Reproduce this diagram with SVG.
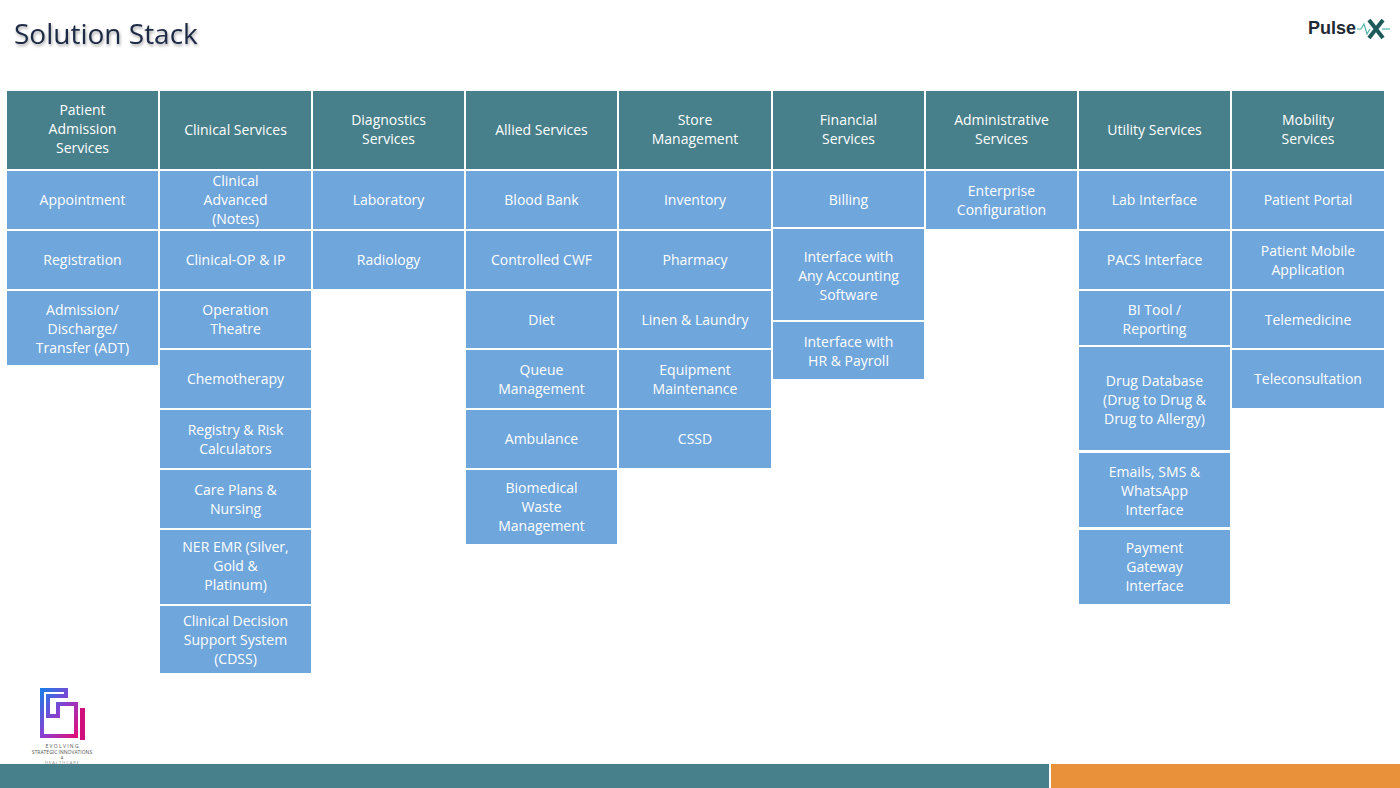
<svg xmlns="http://www.w3.org/2000/svg" width="1400" height="788" viewBox="0 0 1400 788">
<defs>
<linearGradient id="g" x1="0" y1="0" x2="1" y2="1"><stop offset="0" stop-color="#1e7be8"/><stop offset="0.5" stop-color="#8a3fd0"/><stop offset="1" stop-color="#e0107a"/></linearGradient>
<filter id="sh"><feDropShadow dx="1" dy="2" stdDeviation="1.5" flood-color="#000" flood-opacity="0.35"/></filter>
</defs>
<style>
.h{fill:#477f8a}.c{fill:#6fa6dc}
text{font-family:"Open Sans","Noto Sans",sans-serif;font-size:14px;fill:#fff;text-anchor:middle}
</style>
<rect width="1400" height="788" fill="#fff"/>
<text x="14" y="44" style="font-size:28px;fill:#1f2a44;text-anchor:start" filter="url(#sh)">Solution Stack</text>
<g id="logo-pulse"><text x="1308" y="34" style="font-size:18px;font-weight:bold;fill:#1f2a33;font-family:'Liberation Sans',sans-serif;text-anchor:start">Pulse</text>
<path d="M1357 29h4l3-5 3 10 3-5h0" stroke="#4fb3a8" fill="none" stroke-width="1.2"/>
<path d="M1369 20l14 18M1383 20l-14 18" stroke="#1f5a5a" stroke-width="4"/>
<path d="M1382 29h8" stroke="#4fb3a8" stroke-width="1.2"/></g>
<g id="logo-esi">
<path d="M42 690h24v6h-18v20h10v-12h18v32h-34z" fill="none" stroke="url(#g)" stroke-width="4"/>
<rect x="80" y="708" width="5" height="32" fill="#d0107a"/>
<text x="62" y="748" style="font-size:5px;fill:#555">E V O L V I N G</text>
<text x="62" y="754" style="font-size:5px;fill:#555">STRATEGIC INNOVATIONS</text>
<text x="62" y="759" style="font-size:4px;fill:#555">A</text>
<text x="62" y="764" style="font-size:4px;fill:#888">H E A L T H  C A R E</text>
</g>
<g id="headers">
<rect class="h" x="7" y="91" width="151" height="78"/><text x="82.5" y="115">Patient<tspan x="82.5" dy="19">Admission</tspan><tspan x="82.5" dy="19">Services</tspan></text>
<rect class="h" x="160" y="91" width="151" height="78"/><text x="235.5" y="135">Clinical Services</text>
<rect class="h" x="313" y="91" width="151" height="78"/><text x="388.5" y="125">Diagnostics<tspan x="388.5" dy="19">Services</tspan></text>
<rect class="h" x="466" y="91" width="151" height="78"/><text x="541.5" y="135">Allied Services</text>
<rect class="h" x="619" y="91" width="152" height="78"/><text x="695" y="125">Store<tspan x="695" dy="19">Management</tspan></text>
<rect class="h" x="773" y="91" width="151" height="78"/><text x="848.5" y="125">Financial<tspan x="848.5" dy="19">Services</tspan></text>
<rect class="h" x="926" y="91" width="151" height="78"/><text x="1001.5" y="125">Administrative<tspan x="1001.5" dy="19">Services</tspan></text>
<rect class="h" x="1079" y="91" width="151" height="78"/><text x="1154.5" y="135">Utility Services</text>
<rect class="h" x="1232" y="91" width="152" height="78"/><text x="1308" y="125">Mobility<tspan x="1308" dy="19">Services</tspan></text>
</g>
<g id="col1">
<rect class="c" x="7" y="171" width="151" height="58"/><text x="82.5" y="205">Appointment</text>
<rect class="c" x="7" y="231" width="151" height="58"/><text x="82.5" y="265">Registration</text>
<rect class="c" x="7" y="291" width="151" height="74"/><text x="82.5" y="315">Admission/<tspan x="82.5" dy="19">Discharge/</tspan><tspan x="82.5" dy="19">Transfer (ADT)</tspan></text>
</g>
<g id="col2">
<rect class="c" x="160" y="171" width="151" height="58"/><text x="235.5" y="186">Clinical<tspan x="235.5" dy="19">Advanced</tspan><tspan x="235.5" dy="19">(Notes)</tspan></text>
<rect class="c" x="160" y="231" width="151" height="58"/><text x="235.5" y="265">Clinical-OP &amp; IP</text>
<rect class="c" x="160" y="291" width="151" height="57"/><text x="235.5" y="315">Operation<tspan x="235.5" dy="19">Theatre</tspan></text>
<rect class="c" x="160" y="350" width="151" height="58"/><text x="235.5" y="384">Chemotherapy</text>
<rect class="c" x="160" y="410" width="151" height="58"/><text x="235.5" y="435">Registry &amp; Risk<tspan x="235.5" dy="19">Calculators</tspan></text>
<rect class="c" x="160" y="470" width="151" height="58"/><text x="235.5" y="495">Care Plans &amp;<tspan x="235.5" dy="19">Nursing</tspan></text>
<rect class="c" x="160" y="530" width="151" height="74"/><text x="235.5" y="552">NER EMR (Silver,<tspan x="235.5" dy="19">Gold &amp;</tspan><tspan x="235.5" dy="19">Platinum)</tspan></text>
<rect class="c" x="160" y="606" width="151" height="67"/><text x="235.5" y="626">Clinical Decision<tspan x="235.5" dy="19">Support System</tspan><tspan x="235.5" dy="19">(CDSS)</tspan></text>
</g>
<g id="col3">
<rect class="c" x="313" y="171" width="151" height="58"/><text x="388.5" y="205">Laboratory</text>
<rect class="c" x="313" y="231" width="151" height="58"/><text x="388.5" y="265">Radiology</text>
</g>
<g id="col4">
<rect class="c" x="466" y="171" width="151" height="58"/><text x="541.5" y="205">Blood Bank</text>
<rect class="c" x="466" y="231" width="151" height="58"/><text x="541.5" y="265">Controlled CWF</text>
<rect class="c" x="466" y="291" width="151" height="57"/><text x="541.5" y="325">Diet</text>
<rect class="c" x="466" y="350" width="151" height="58"/><text x="541.5" y="375">Queue<tspan x="541.5" dy="19">Management</tspan></text>
<rect class="c" x="466" y="410" width="151" height="58"/><text x="541.5" y="444">Ambulance</text>
<rect class="c" x="466" y="470" width="151" height="74"/><text x="541.5" y="493">Biomedical<tspan x="541.5" dy="19">Waste</tspan><tspan x="541.5" dy="19">Management</tspan></text>
</g>
<g id="col5">
<rect class="c" x="619" y="171" width="152" height="58"/><text x="695" y="205">Inventory</text>
<rect class="c" x="619" y="231" width="152" height="58"/><text x="695" y="265">Pharmacy</text>
<rect class="c" x="619" y="291" width="152" height="57"/><text x="695" y="325">Linen &amp; Laundry</text>
<rect class="c" x="619" y="350" width="152" height="58"/><text x="695" y="375">Equipment<tspan x="695" dy="19">Maintenance</tspan></text>
<rect class="c" x="619" y="410" width="152" height="58"/><text x="695" y="444">CSSD</text>
</g>
<g id="col6">
<rect class="c" x="773" y="171" width="151" height="56"/><text x="848.5" y="205">Billing</text>
<rect class="c" x="773" y="229" width="151" height="91"/><text x="848.5" y="262">Interface with<tspan x="848.5" dy="19">Any Accounting</tspan><tspan x="848.5" dy="19">Software</tspan></text>
<rect class="c" x="773" y="322" width="151" height="57"/><text x="848.5" y="347">Interface with<tspan x="848.5" dy="19">HR &amp; Payroll</tspan></text>
</g>
<g id="col7">
<rect class="c" x="926" y="171" width="151" height="58"/><text x="1001.5" y="196">Enterprise<tspan x="1001.5" dy="19">Configuration</tspan></text>
</g>
<g id="col8">
<rect class="c" x="1079" y="171" width="151" height="58"/><text x="1154.5" y="205">Lab Interface</text>
<rect class="c" x="1079" y="231" width="151" height="58"/><text x="1154.5" y="265">PACS Interface</text>
<rect class="c" x="1079" y="291" width="151" height="54"/><text x="1154.5" y="315">BI Tool /<tspan x="1154.5" dy="19">Reporting</tspan></text>
<rect class="c" x="1079" y="347" width="151" height="103"/><text x="1154.5" y="386">Drug Database<tspan x="1154.5" dy="19">(Drug to Drug &amp;</tspan><tspan x="1154.5" dy="19">Drug to Allergy)</tspan></text>
<rect class="c" x="1079" y="453" width="151" height="74"/><text x="1154.5" y="477">Emails, SMS &amp;<tspan x="1154.5" dy="19">WhatsApp</tspan><tspan x="1154.5" dy="19">Interface</tspan></text>
<rect class="c" x="1079" y="530" width="151" height="74"/><text x="1154.5" y="553">Payment<tspan x="1154.5" dy="19">Gateway</tspan><tspan x="1154.5" dy="19">Interface</tspan></text>
</g>
<g id="col9">
<rect class="c" x="1232" y="171" width="152" height="58"/><text x="1308" y="205">Patient Portal</text>
<rect class="c" x="1232" y="231" width="152" height="58"/><text x="1308" y="256">Patient Mobile<tspan x="1308" dy="19">Application</tspan></text>
<rect class="c" x="1232" y="291" width="152" height="57"/><text x="1308" y="325">Telemedicine</text>
<rect class="c" x="1232" y="350" width="152" height="58"/><text x="1308" y="384">Teleconsultation</text>
</g>
<g id="connectors"/>
<g id="footer">
<rect x="0" y="764" width="1049" height="24" fill="#477f8a"/>
<rect x="1051" y="764" width="349" height="24" fill="#e8913a"/>
</g>
</svg>
